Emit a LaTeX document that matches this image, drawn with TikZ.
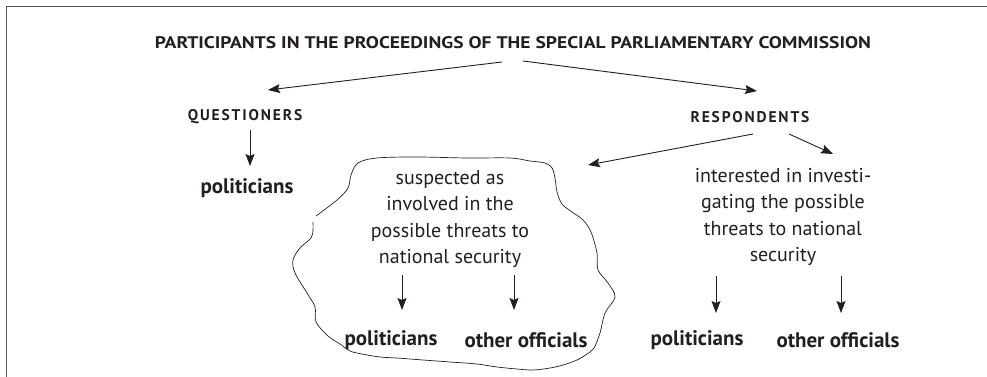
\documentclass[tikz,border=0pt]{standalone}
\usepackage{fontspec}
\setmainfont{PT Sans}
\usetikzlibrary{arrows.meta}
\definecolor{ink}{HTML}{231F20}
\definecolor{framegray}{HTML}{555555}
\tikzset{
  arr/.style={-{Stealth[length=12pt,width=9pt,inset=2pt]}, line width=0.9pt, draw=ink},
  body/.style={font=\fontsize{20}{26.5}\selectfont, align=center, text=ink, inner sep=0pt},
  boldlbl/.style={font=\fontsize{21}{24}\selectfont\bfseries, text=ink, inner sep=0pt},
  headlbl/.style={font=\fontsize{15.5}{18}\selectfont\bfseries\addfontfeature{LetterSpace=12}, text=ink, inner sep=0pt},
  cloud/.style={draw=ink, line width=0.7pt},
}
\begin{document}
\begin{tikzpicture}[x=1pt,y=-1pt]
\useasboundingbox (0,0) rectangle (987,377);
\draw[framegray, line width=1.5pt] (6.5,377) -- (6.5,6.5) -- (987,6.5);

% title
\node[text=ink, inner sep=0pt, anchor=south] (title) at (513,49)
  {\resizebox{716pt}{12pt}{\bfseries PARTICIPANTS IN THE PROCEEDINGS OF THE SPECIAL PARLIAMENTARY COMMISSION}};

\node[headlbl] (Q) at (245,117) {QUESTIONERS};
\node[headlbl] (R) at (750,117) {RESPONDENTS};

\node[boldlbl] (polQ) at (247,188) {politicians};

\node[body] (susp) at (450,219) {suspected as\\involved in the\\possible threats to\\national security};
\node[body] (intr) at (783,217) {interested in investi-\\gating the possible\\threats to national\\security};

\node[boldlbl] (polS) at (391,340) {politicians};
\node[boldlbl] (othS) at (526,340) {other officials};
\node[boldlbl] (polR) at (697,340) {politicians};
\node[boldlbl] (othR) at (838,340) {other officials};

% connector end points
\coordinate (t1) at (502,62);  \coordinate (t1e) at (268,90);
\coordinate (t2) at (523,61);  \coordinate (t2e) at (757,91);
\coordinate (q1) at (250,130); \coordinate (q1e) at (250,166);
\coordinate (r1) at (753,134); \coordinate (r1e) at (588,165);
\coordinate (r2) at (789,134); \coordinate (r2e) at (833,154);
\coordinate (s1) at (402,275); \coordinate (s1e) at (402,310);
\coordinate (s2) at (514,275); \coordinate (s2e) at (514,310);
\coordinate (i1) at (716,276); \coordinate (i1e) at (716,313);
\coordinate (i2) at (841,276); \coordinate (i2e) at (841,313);

\draw[arr] (t1) -- (t1e);
\draw[arr] (t2) -- (t2e);
\draw[arr] (q1) -- (q1e);
\draw[arr] (r1) -- (r1e);
\draw[arr] (r2) -- (r2e);
\draw[arr] (s1) -- (s1e);
\draw[arr] (s2) -- (s2e);
\draw[arr] (i1) -- (i1e);
\draw[arr] (i2) -- (i2e);

% cloud outline (hand drawn, with a small gap on the left)
\draw[cloud] plot[smooth, tension=0.55] coordinates {
 (313,222) (313,230) (311,238) (300,248) (293,260) (295,273) (307,293)
 (315,307) (316,322) (328,336) (340,344) (350,351) (362,354) (380,357)
 (397,358) (423,360) (450,362) (477,364) (497,367) (517,369) (533,370)
 (550,368) (563,365) (577,360) (587,354) (594,348) (600,333) (605,313)
 (615,297) (608,283) (598,270) (597,253) (591,232) (583,220) (572,212)
 (562,204) (557,192) (555,178) (552,168) (545,163) (530,161) (510,158)
 (467,158) (417,157) (377,158) (358,163) (351,175) (348,188) (337,200)
 (316,216)};
\end{tikzpicture}
\end{document}
